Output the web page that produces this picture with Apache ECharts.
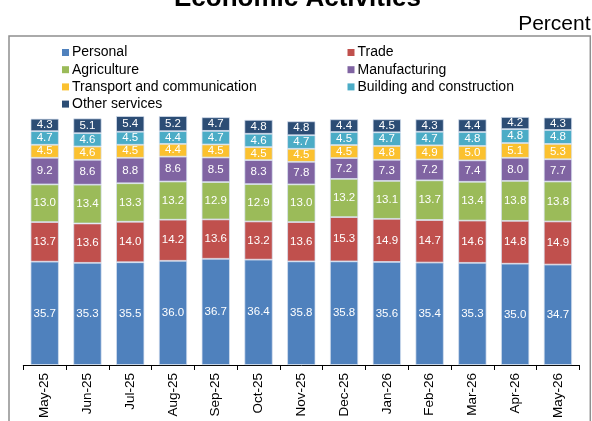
<!DOCTYPE html>
<html>
<head>
<meta charset="utf-8">
<script src="https://cdn.jsdelivr.net/npm/echarts@6/dist/echarts.min.js"></script>
<style>
html,body{margin:0;padding:0;background:#fff;}
#chart{width:592px;height:421px;}
</style>
</head>
<body>
<div id="chart"></div>
<script>
var categories = ['May-25','Jun-25','Jul-25','Aug-25','Sep-25','Oct-25','Nov-25','Dec-25','Jan-26','Feb-26','Mar-26','Apr-26','May-26'];
var personal      = [35.7, 35.3, 35.5, 36.0, 36.7, 36.4, 35.8, 35.8, 35.6, 35.4, 35.3, 35.0, 34.7];
var trade         = [13.7, 13.6, 14.0, 14.2, 13.6, 13.2, 13.6, 15.3, 14.9, 14.7, 14.6, 14.8, 14.9];
var agriculture   = [13.0, 13.4, 13.3, 13.2, 12.9, 12.9, 13.0, 13.2, 13.1, 13.7, 13.4, 13.8, 13.8];
var manufacturing = [9.2, 8.6, 8.8, 8.6, 8.5, 8.3, 7.8, 7.2, 7.3, 7.2, 7.4, 8.0, 7.7];
var transport     = [4.5, 4.6, 4.5, 4.4, 4.5, 4.5, 4.5, 4.5, 4.8, 4.9, 5.0, 5.1, 5.3];
var building      = [4.7, 4.6, 4.5, 4.4, 4.7, 4.6, 4.7, 4.5, 4.7, 4.7, 4.8, 4.8, 4.8];
var other         = [4.3, 5.1, 5.4, 5.2, 4.7, 4.8, 4.8, 4.4, 4.5, 4.3, 4.4, 4.2, 4.3];

var seriesNames = ['Personal','Trade','Agriculture','Manufacturing','Transport and communication','Building and construction','Other services'];
var seriesData = [personal, trade, agriculture, manufacturing, transport, building, other];
var colors = ['#4F81BD','#C0504D','#9BBB59','#8064A2','#FBC12F','#4BACC6','#2C4D75'];

var FONT = '"Liberation Sans", Arial, sans-serif';

var chart = echarts.init(document.getElementById('chart'), null, {renderer:'canvas'});

var series = seriesNames.map(function(name, i){
  return {
    name: name,
    type: 'bar',
    stack: 'total',
    barCategoryGap: '34%',
    data: seriesData[i],
    itemStyle: { color: colors[i], borderColor: 'rgba(215,225,240,0.9)', borderWidth: 0.8 },
    label: {
      show: true,
      position: 'inside',
      color: '#fff',
      fontSize: 11.5,
      fontFamily: FONT,
      formatter: function(p){ return Number(p.value).toFixed(1); }
    },
    emphasis: { disabled: true },
    animation: false
  };
});

var legendCommon = {
  orient: 'vertical',
  top: 45.5,
  itemWidth: 7,
  itemHeight: 7,
  itemGap: 3.2,
  icon: 'rect',
  selectedMode: false,
  itemStyle: { borderWidth: 0 },
  textStyle: { fontSize: 14, fontFamily: FONT, color: '#000', lineHeight: 14, padding: [0,0,0,-2] },
  padding: 0
};

chart.setOption({
  animation: false,
  backgroundColor: '#fff',
  color: colors,
  graphic: [
    { type: 'rect', shape: { x: 9, y: 36, width: 581.3, height: 420 }, style: { fill: 'none', stroke: '#8f8f8f', lineWidth: 1.5 }, z: -10, silent: true },
    { type: 'text', style: { x: 297.5, y: -1, text: 'Economic Activities', fontSize: 26, fontWeight: 'bold', fontFamily: FONT, fill: '#000', align: 'center', verticalAlign: 'middle' }, silent: true },
    { type: 'text', style: { x: 590.5, y: 24, text: 'Percent', fontSize: 21, fontFamily: FONT, fill: '#000', align: 'right', verticalAlign: 'middle' }, silent: true }
  ],
  legend: [
    Object.assign({}, legendCommon, { left: 62, data: ['Personal','Agriculture','Transport and communication','Other services'] }),
    Object.assign({}, legendCommon, { left: 347.5, data: ['Trade','Manufacturing','Building and construction'] })
  ],
  grid: { left: 23.3, right: 12.7, top: 75.6, bottom: 54.3, containLabel: false },
  xAxis: {
    type: 'category',
    data: categories,
    boundaryGap: true,
    axisLine: { show: true, lineStyle: { color: '#000', width: 1 } },
    axisTick: { show: true, length: 5, lineStyle: { color: '#000' } },
    axisLabel: { rotate: 90, margin: 8, fontSize: 13.5, fontFamily: FONT, color: '#000', interval: 0 }
  },
  yAxis: {
    type: 'value',
    min: 0,
    max: 100,
    show: false,
    splitLine: { show: false }
  },
  series: series
});
</script>
</body>
</html>
